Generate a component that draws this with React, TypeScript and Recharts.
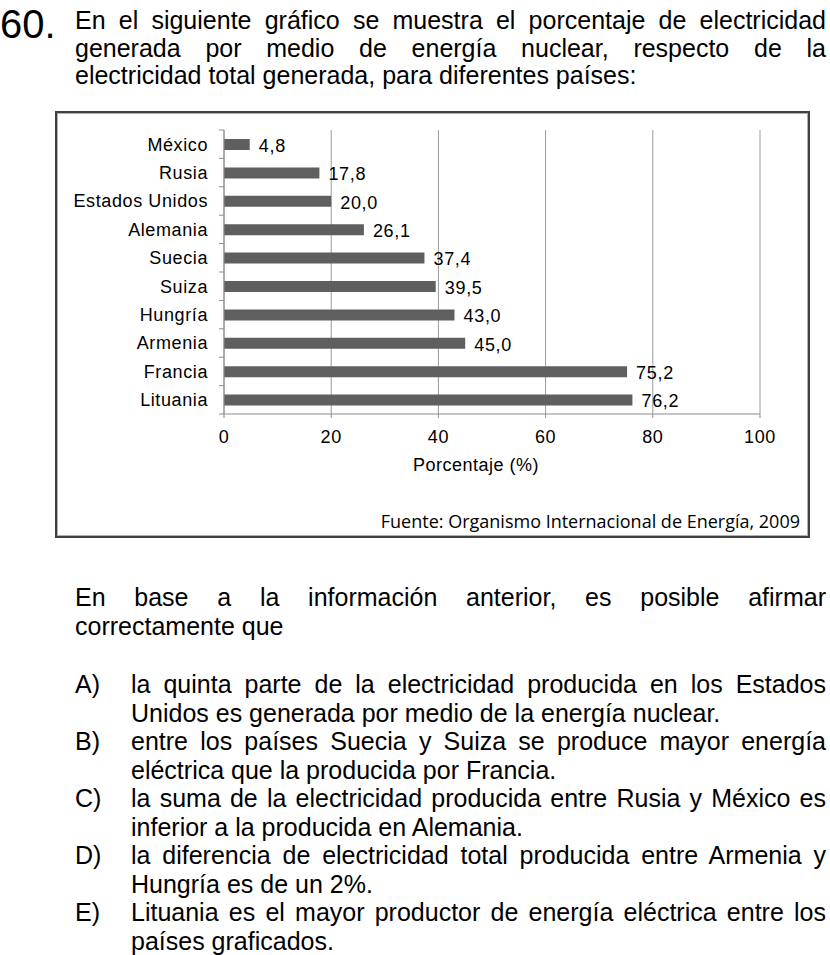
import React from 'react';
import { BarChart, Bar, XAxis, YAxis, CartesianGrid, LabelList } from 'recharts';

const countries = ['México', 'Rusia', 'Estados Unidos', 'Alemania', 'Suecia', 'Suiza', 'Hungría', 'Armenia', 'Francia', 'Lituania'];
const nuclearShare = [4.8, 17.8, 20.0, 26.1, 37.4, 39.5, 43.0, 45.0, 75.2, 76.2];
const xTicks = [0, 20, 40, 60, 80, 100];

const questionNumber = '60.';
const introLines = [
  'En el siguiente gráfico se muestra el porcentaje de electricidad',
  'generada por medio de energía nuclear, respecto de la',
  'electricidad total generada, para diferentes países:',
];
const promptLines = ['En base a la información anterior, es posible afirmar', 'correctamente que'];
const optionLetters = ['A)', 'B)', 'C)', 'D)', 'E)'];
const optionLines = [
  ['la quinta parte de la electricidad producida en los Estados', 'Unidos es generada por medio de la energía nuclear.'],
  ['entre los países Suecia y Suiza se produce mayor energía', 'eléctrica que la producida por Francia.'],
  ['la suma de la electricidad producida entre Rusia y México es', 'inferior a la producida en Alemania.'],
  ['la diferencia de electricidad total producida entre Armenia y', 'Hungría es de un 2%.'],
  ['Lituania es el mayor productor de energía eléctrica entre los', 'países graficados.'],
];
const sourceNote = 'Fuente: Organismo Internacional de Energía, 2009';

const data = countries.map((name, i) => ({ name, value: nuclearShare[i] }));

const arial = '"Liberation Sans", Arial, sans-serif';
const LINE = 28.5;

const TextLine = ({ left, top, width, text, justify }: { left: number; top: number; width: number; text: string; justify: boolean }) => (
  <div
    style={{
      position: 'absolute',
      left,
      top,
      width,
      height: LINE,
      lineHeight: `${LINE}px`,
      fontSize: 25,
      fontFamily: arial,
      color: '#000',
      textAlign: justify ? 'justify' : 'left',
      textAlignLast: justify ? 'justify' : 'left',
      overflow: 'visible',
    }}
  >
    {text}
  </div>
);

const CountryTick = (props: any) => {
  const { x, y, payload, index } = props;
  const half = payload && payload.offset ? payload.offset : 14.2;
  const axisX = x + 16;
  return (
    <g>
      <line x1={axisX - 5} x2={axisX} y1={y - half} y2={y - half} stroke="#8c8c8c" />
      {index === countries.length - 1 && (
        <line x1={axisX - 5} x2={axisX} y1={y + half} y2={y + half} stroke="#8c8c8c" />
      )}
      <text x={x} y={y} dy="0.36em" textAnchor="end" fontSize={18} letterSpacing={0.6} fill="#000" fontFamily={arial}>
        {payload.value}
      </text>
    </g>
  );
};

export default function App() {
  return (
    <div style={{ position: 'absolute', left: 0, top: 0, width: 830, height: 955, background: '#fff', overflow: 'hidden' }}>
      <div style={{ position: 'absolute', left: 0, top: 1, fontSize: 40, lineHeight: '46px', fontFamily: arial, color: '#000' }}>
        {questionNumber}
      </div>
      {introLines.map((t, i) => (
        <TextLine key={t} left={75} top={6 + i * 27.5} width={751} text={t} justify={i < introLines.length - 1} />
      ))}

      <div
        style={{
          position: 'absolute',
          left: 55,
          top: 111,
          width: 755,
          height: 427,
          boxSizing: 'border-box',
          border: '2px solid #404040',
          boxShadow: 'inset 0 0 0 1px #b0b0b0',
        }}
      />
      <div style={{ position: 'absolute', left: 0, top: 0 }}>
        <BarChart
          width={830}
          height={540}
          data={data}
          layout="vertical"
          margin={{ top: 130, right: 70, left: 0, bottom: 66 }}
          barCategoryGap={0}
        >
          <CartesianGrid horizontal={false} stroke="#9a9a9a" />
          <XAxis
            type="number"
            domain={[0, 100]}
            ticks={xTicks}
            height={60}
            tickSize={4}
            tickMargin={12}
            axisLine={{ stroke: '#8c8c8c' }}
            tickLine={{ stroke: '#8c8c8c' }}
            tick={{ fontSize: 18, fill: '#000', fontFamily: arial, letterSpacing: 0.6 }}
            label={{ value: 'Porcentaje (%)', position: 'insideBottom', offset: 3, dx: -16, fontSize: 18, fill: '#000', fontFamily: arial, letterSpacing: 0.5 }}
          />
          <YAxis
            type="category"
            dataKey="name"
            width={224}
            tickSize={5}
            tickMargin={11}
            tickLine={false}
            axisLine={{ stroke: '#8c8c8c' }}
            tick={<CountryTick />}
            interval={0}
          />
          <Bar dataKey="value" fill="#5f5f5f" barSize={11} isAnimationActive={false}>
            <LabelList
              dataKey="value"
              position="right"
              offset={9}
              dy={1}
              fill="#000"
              fontSize={18}
              fontFamily={arial}
              letterSpacing={0.7}
              formatter={(v: any) => Number(v).toFixed(1).replace('.', ',')}
            />
          </Bar>
        </BarChart>
      </div>
      <div
        style={{
          position: 'absolute',
          right: 30,
          top: 509,
          fontSize: 18,
          lineHeight: '24px',
          fontFamily: '"Open Sans", "Noto Sans", sans-serif',
          color: '#000',
          whiteSpace: 'nowrap',
        }}
      >
        {sourceNote}
      </div>

      {promptLines.map((t, i) => (
        <TextLine key={t} left={75} top={583 + i * LINE} width={751} text={t} justify={i < promptLines.length - 1} />
      ))}
      {optionLetters.map((letter, k) => (
        <React.Fragment key={letter}>
          <TextLine left={75} top={670 + k * 2 * LINE} width={50} text={letter} justify={false} />
          {optionLines[k].map((t, j) => (
            <TextLine key={t} left={131} top={670 + (k * 2 + j) * LINE} width={695} text={t} justify={j === 0} />
          ))}
        </React.Fragment>
      ))}
    </div>
  );
}
